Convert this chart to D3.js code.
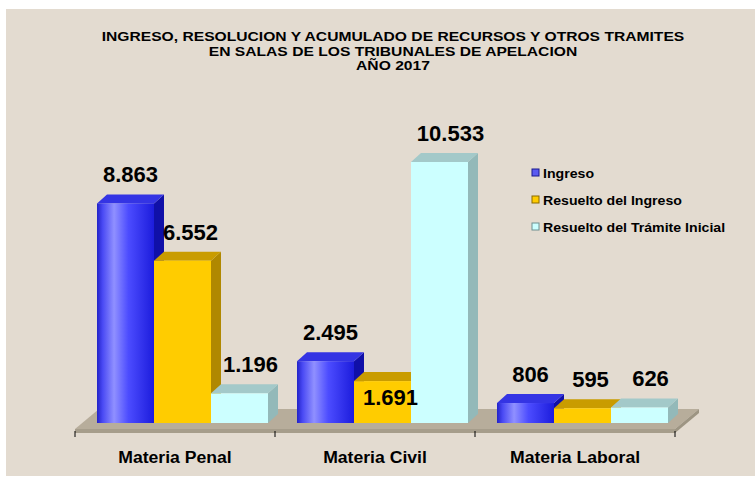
<!DOCTYPE html>
<html>
<head>
<meta charset="utf-8">
<script src="https://cdn.jsdelivr.net/npm/d3@7"></script>
<style>
  body { margin: 0; background: #ffffff; }
  svg { display: block; font-family: "Liberation Sans", Arial, sans-serif; }
</style>
</head>
<body>
<svg></svg>
<script>
//chart data
let categories = ["Materia Penal", "Materia Civil", "Materia Laboral"];
let seriesNames = ["Ingreso", "Resuelto del Ingreso", "Resuelto del Trámite Inicial"];
let ingreso = [8863, 2495, 806];
let resueltoIngreso = [6552, 1691, 595];
let resueltoTramite = [1196, 10533, 626];
let titleLines = [
  "INGRESO, RESOLUCION Y ACUMULADO DE RECURSOS Y OTROS TRAMITES",
  "EN SALAS DE LOS TRIBUNALES DE APELACION",
  "AÑO 2017",
];

let series = [ingreso, resueltoIngreso, resueltoTramite];

//canvas
let width = 755;
let height = 478;
let baseY = 423; //front bottom of the bars
let depthX = 10; //bar depth in the oblique view
let depthY = -9;

let svg = d3.select("svg").attr("width", width).attr("height", height);

//colours for front / top / side of every series
let colors = [
  { front: "url(#gradBlue)", top: "#3434e4", side: "#1010a8", swatch: "#5a5af0", stroke: "#1a1a90" },
  { front: "#ffcc00", top: "#c99c00", side: "#b08800", swatch: "#ffcc00", stroke: "#8a6a00" },
  { front: "#ccffff", top: "#a3c9c9", side: "#93b9b9", swatch: "#ccffff", stroke: "#6f9090" },
];

let locale = d3.formatLocale({ decimal: ",", thousands: ".", grouping: [3], currency: ["", ""] });
let fmt = locale.format(",d");

let xScale;
let xSub;
let yScale;

//the source picture has slightly wide lettering
let stretch = (sel, k) => {
  sel.each(function () {
    let len = this.getComputedTextLength();
    d3.select(this).attr("textLength", len * k).attr("lengthAdjust", "spacingAndGlyphs");
  });
};

let drawBackground = () => {
  let defs = svg.append("defs");
  let g = defs
    .append("linearGradient")
    .attr("id", "gradBlue")
    .attr("x1", "0")
    .attr("x2", "1")
    .attr("y1", "0")
    .attr("y2", "0");
  [
    [0, "#2222c8"],
    [0.1, "#4a4af4"],
    [0.3, "#9090ff"],
    [0.55, "#4c4cff"],
    [1, "#1c1cdc"],
  ].forEach((s) => {
    g.append("stop").attr("offset", s[0]).attr("stop-color", s[1]);
  });

  svg
    .append("rect")
    .attr("x", 6)
    .attr("y", 9)
    .attr("width", width - 6)
    .attr("height", 467)
    .attr("fill", "#e3dbd0");
};

let generateScales = () => {
  xScale = d3.scaleBand().domain(categories).range([75, 675]);
  xSub = d3.scaleBand().domain(d3.range(series.length)).range([22, 193]);
  yScale = d3.scaleLinear().domain([0, 10533]).range([baseY, 162]);
};

let drawFloor = () => {
  let fx0 = xScale.range()[0];
  let fx1 = xScale.range()[1];
  let fy = 429;
  let dx = 24;
  let dy = -20;
  let thick = 4;
  let floor = svg.append("g").attr("id", "floor");
  floor
    .append("polygon")
    .attr("points", [[fx0, fy], [fx0 + dx, fy + dy], [fx1 + dx, fy + dy], [fx1, fy]].join(" "))
    .attr("fill", "#b7ad9b");
  floor
    .append("polygon")
    .attr("points", [[fx1, fy], [fx1 + dx, fy + dy], [fx1 + dx, fy + dy + thick], [fx1, fy + thick]].join(" "))
    .attr("fill", "#9d9583");
  floor
    .append("rect")
    .attr("x", fx0)
    .attr("y", fy)
    .attr("width", fx1 - fx0)
    .attr("height", thick)
    .attr("fill", "#a69d8b");
};

let drawBars = () => {
  let groups = svg
    .selectAll(".group")
    .data(categories)
    .enter()
    .append("g")
    .attr("class", "group")
    .attr("transform", (d) => "translate(" + xScale(d) + ",0)");

  groups.each(function (cat, ci) {
    let g = d3.select(this);
    series.forEach((values, si) => {
      let v = values[ci];
      let x = xSub(si);
      let w = xSub.bandwidth();
      let y = yScale(v);
      let c = colors[si];
      //side face
      g.append("polygon")
        .attr("points", [[x + w, y], [x + w + depthX, y + depthY], [x + w + depthX, baseY + depthY], [x + w, baseY]].join(" "))
        .attr("fill", c.side);
      //top face
      g.append("polygon")
        .attr("points", [[x, y], [x + depthX, y + depthY], [x + w + depthX, y + depthY], [x + w, y]].join(" "))
        .attr("fill", c.top);
      //front face
      g.append("rect")
        .attr("class", "bar")
        .attr("x", x)
        .attr("y", y)
        .attr("width", w)
        .attr("height", baseY - y)
        .attr("fill", c.front);
    });
  });
};

let drawLabels = () => {
  let placed = [];
  let pad = 8;
  let fontSize = 22;
  let labels = svg.append("g").attr("id", "value-labels");
  series.forEach((values, si) => {
    categories.forEach((cat, ci) => {
      let v = values[ci];
      let text = fmt(v);
      let cx = xScale(cat) + xSub(si) + xSub.bandwidth() / 2 + depthX / 2 + si * 3;
      let top = yScale(v);
      let baseline = top + depthY - 12;
      let w = text.length * fontSize * 0.53;
      let box = { x0: cx - w / 2, x1: cx + w / 2, y0: baseline - 16, y1: baseline };
      //push a label into the bar when it crowds a neighbour
      let clash = placed.some(
        (b) => box.x0 < b.x1 + pad && box.x1 > b.x0 - pad && box.y0 < b.y1 + pad && box.y1 > b.y0 - pad
      );
      if (clash) {
        baseline = top + 24;
        box.y0 = baseline - 16;
        box.y1 = baseline;
      }
      placed.push(box);
      labels
        .append("text")
        .attr("x", cx)
        .attr("y", baseline)
        .attr("text-anchor", "middle")
        .attr("font-size", fontSize)
        .attr("font-weight", "bold")
        .attr("fill", "#000")
        .text(text);
    });
  });
};

let generateAxes = () => {
  let xAxis = d3.axisBottom(xScale).tickSize(0).tickPadding(0);
  let axis = svg
    .append("g")
    .attr("id", "x-axis")
    .attr("transform", "translate(0, 449)")
    .call(xAxis);
  axis.select(".domain").remove();
  axis
    .selectAll("text")
    .attr("dy", "0.9em")
    .attr("font-size", 16)
    .attr("font-weight", "bold")
    .attr("font-family", "Liberation Sans, Arial, sans-serif")
    .attr("fill", "#000")
    .call(stretch, 1.1);

  let bounds = categories.map((d) => xScale(d)).concat([xScale.range()[1]]);
  svg
    .append("g")
    .selectAll("line")
    .data(bounds)
    .enter()
    .append("line")
    .attr("x1", (d) => d)
    .attr("x2", (d) => d)
    .attr("y1", 431)
    .attr("y2", 437)
    .attr("stroke", "#000")
    .attr("stroke-width", 1);
};

let drawTitle = () => {
  svg
    .append("g")
    .attr("id", "title")
    .selectAll("text")
    .data(titleLines)
    .enter()
    .append("text")
    .attr("x", 393)
    .attr("y", (d, i) => 41 + i * 14.5)
    .attr("text-anchor", "middle")
    .attr("font-size", 12.5)
    .attr("font-weight", "bold")
    .attr("fill", "#000")
    .text((d) => d)
    .call(stretch, 1.25);
};

let drawLegend = () => {
  let legend = svg.append("g").attr("id", "legend").attr("transform", "translate(532, 169)");
  let items = legend
    .selectAll("g")
    .data(seriesNames)
    .enter()
    .append("g")
    .attr("transform", (d, i) => "translate(0," + i * 27 + ")");
  items
    .append("rect")
    .attr("width", 7)
    .attr("height", 7)
    .attr("fill", (d, i) => colors[i].swatch)
    .attr("stroke", (d, i) => colors[i].stroke)
    .attr("stroke-width", 1);
  items
    .append("text")
    .attr("x", 11)
    .attr("y", 8.5)
    .attr("font-size", 12.5)
    .attr("font-weight", "bold")
    .attr("fill", "#000")
    .text((d) => d)
    .call(stretch, 1.13);
};

drawBackground();
generateScales();
drawFloor();
drawBars();
drawLabels();
generateAxes();
drawTitle();
drawLegend();
</script>
</body>
</html>
